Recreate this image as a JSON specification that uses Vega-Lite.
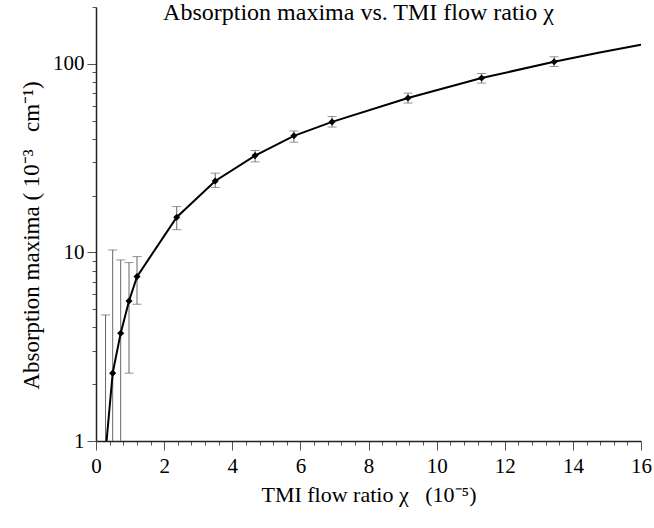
{
  "$schema": "https://vega.github.io/schema/vega-lite/v6.json",
  "width": 545,
  "height": 434,
  "autosize": "none",
  "padding": {"left": 96, "top": 7, "right": 13, "bottom": 87},
  "background": "white",
  "config": {
    "view": {"stroke": null},
    "font": "Liberation Serif",
    "axis": {
      "domainColor": "#222",
      "domainWidth": 1.5,
      "tickColor": "#555",
      "labelColor": "black",
      "labelFont": "Liberation Serif",
      "labelFontSize": 21,
      "titleFont": "Liberation Serif",
      "titleFontWeight": "normal",
      "titleColor": "black",
      "grid": false
    }
  },
  "title": {
    "text": "Absorption maxima vs. TMI flow ratio χ",
    "font": "Liberation Serif",
    "fontSize": 24,
    "fontWeight": "normal",
    "color": "black",
    "anchor": "middle",
    "offset": -29,
    "dx": -10
  },
  "datasets": {
    "points": [
      {"chi": 0.28, "a": 0.7, "lo": 0.1, "hi": 4.66},
      {"chi": 0.49, "a": 2.29, "lo": 0.1, "hi": 10.3},
      {"chi": 0.725, "a": 3.73, "lo": 0.1, "hi": 9.12},
      {"chi": 0.969, "a": 5.53, "lo": 2.29, "hi": 8.83},
      {"chi": 1.204, "a": 7.44, "lo": 5.31, "hi": 9.5},
      {"chi": 2.37, "a": 15.37, "lo": 13.2, "hi": 17.5},
      {"chi": 3.5, "a": 23.9, "lo": 22.1, "hi": 26.3},
      {"chi": 4.67, "a": 32.6, "lo": 30.2, "hi": 34.7},
      {"chi": 5.81, "a": 41.5, "lo": 38.4, "hi": 44.0},
      {"chi": 6.93, "a": 49.2, "lo": 46.2, "hi": 52.5},
      {"chi": 9.16, "a": 65.8, "lo": 61.9, "hi": 69.9},
      {"chi": 11.32, "a": 84.0, "lo": 79.0, "hi": 88.8},
      {"chi": 13.45, "a": 102.5, "lo": 96.8, "hi": 108.9}
    ],
    "curve": [
      {"chi": 0.31, "a": 1.0},
      {"chi": 0.49, "a": 2.29},
      {"chi": 0.725, "a": 3.73},
      {"chi": 0.969, "a": 5.53},
      {"chi": 1.204, "a": 7.44},
      {"chi": 2.37, "a": 15.37},
      {"chi": 3.5, "a": 23.9},
      {"chi": 4.67, "a": 32.6},
      {"chi": 5.81, "a": 41.5},
      {"chi": 6.93, "a": 49.2},
      {"chi": 9.16, "a": 65.8},
      {"chi": 11.32, "a": 84.0},
      {"chi": 13.45, "a": 102.5},
      {"chi": 14.75, "a": 114.4},
      {"chi": 16.0, "a": 126.2}
    ]
  },
  "layer": [
    {
      "data": {"name": "points"},
      "mark": {"type": "rule", "color": "#666", "strokeWidth": 1, "clip": true},
      "encoding": {
        "x": {
          "field": "chi", "type": "quantitative",
          "scale": {"domain": [0, 16], "nice": false, "zero": false},
          "axis": {
            "values": [0,0.4,0.8,1.2,1.6,2,2.4,2.8,3.2,3.6,4,4.4,4.8,5.2,5.6,6,6.4,6.8,7.2,7.6,8,8.4,8.8,9.2,9.6,10,10.4,10.8,11.2,11.6,12,12.4,12.8,13.2,13.6,14,14.4,14.8,15.2,15.6,16],
            "tickCount": 100,
            "tickMinStep": 0.1,
            "labelExpr": "datum.value % 2 == 0 ? format(datum.value, 'd') : ''",
            "tickSize": {"condition": {"test": "datum.value % 2 == 0", "value": 9}, "value": 4},
            "labelPadding": 5,
            "labelFlush": false,
            "labelOverlap": false,
            "title": "TMI flow ratio χ \u00a0\u00a0(10⁻⁵)",
            "titleFontSize": 22,
            "titlePadding": 8
          }
        },
        "y": {
          "field": "lo", "type": "quantitative",
          "scale": {"type": "log", "domain": [1, 200], "nice": false},
          "axis": {
            "values": [1,2,3,4,5,6,7,8,9,10,20,30,40,50,60,70,80,90,100,200],
            "tickCount": 100,
            "tickMinStep": 0.1,
            "labelExpr": "(datum.value == 1 || datum.value == 10 || datum.value == 100) ? format(datum.value, 'd') : ''",
            "tickSize": {"condition": {"test": "datum.value == 1 || datum.value == 10 || datum.value == 100", "value": 9}, "value": 4},
            "labelPadding": 3,
            "labelOverlap": false,
            "labelFlush": false,
            "title": "Absorption maxima ( 10⁻³ \u00a0\u00a0cm⁻¹)",
            "titleFontSize": 23,
            "titlePadding": 9,
            "titleY": 228,
            "titleAlign": "center"
          }
        },
        "y2": {"field": "hi"}
      }
    },
    {
      "data": {"name": "points"},
      "mark": {"type": "tick", "orient": "horizontal", "size": 9, "thickness": 1, "color": "#666", "clip": true},
      "encoding": {
        "x": {"field": "chi", "type": "quantitative", "scale": {"domain": [0, 16], "nice": false, "zero": false}},
        "y": {"field": "lo", "type": "quantitative", "scale": {"type": "log", "domain": [1, 200], "nice": false}}
      }
    },
    {
      "data": {"name": "points"},
      "mark": {"type": "tick", "orient": "horizontal", "size": 9, "thickness": 1, "color": "#666", "clip": true},
      "encoding": {
        "x": {"field": "chi", "type": "quantitative", "scale": {"domain": [0, 16], "nice": false, "zero": false}},
        "y": {"field": "hi", "type": "quantitative", "scale": {"type": "log", "domain": [1, 200], "nice": false}}
      }
    },
    {
      "data": {"name": "curve"},
      "mark": {"type": "line", "color": "black", "strokeWidth": 2, "interpolate": "linear", "clip": true},
      "encoding": {
        "x": {"field": "chi", "type": "quantitative", "scale": {"domain": [0, 16], "nice": false, "zero": false}},
        "y": {"field": "a", "type": "quantitative", "scale": {"type": "log", "domain": [1, 200], "nice": false}}
      }
    },
    {
      "data": {"name": "points"},
      "mark": {"type": "point", "shape": "diamond", "filled": true, "color": "black", "size": 50, "opacity": 1, "clip": true},
      "encoding": {
        "x": {"field": "chi", "type": "quantitative", "scale": {"domain": [0, 16], "nice": false, "zero": false}},
        "y": {"field": "a", "type": "quantitative", "scale": {"type": "log", "domain": [1, 200], "nice": false}}
      }
    },
    {
      "mark": {"type": "text", "align": "left", "baseline": "middle", "font": "Liberation Serif", "fontSize": 18, "color": "black"},
      "encoding": {
        "x": {"datum": 2.03, "type": "quantitative", "scale": {"domain": [0, 16], "nice": false, "zero": false}},
        "y": {"datum": 4.49, "type": "quantitative", "scale": {"type": "log", "domain": [1, 200], "nice": false}},
        "text": {"value": "α(χ) = -0.37367 + 0.37282 • exp( χ / \u00a05.44 • 10⁻⁴ ) \u00a0[cm⁻¹]"}
      }
    }
  ]
}
